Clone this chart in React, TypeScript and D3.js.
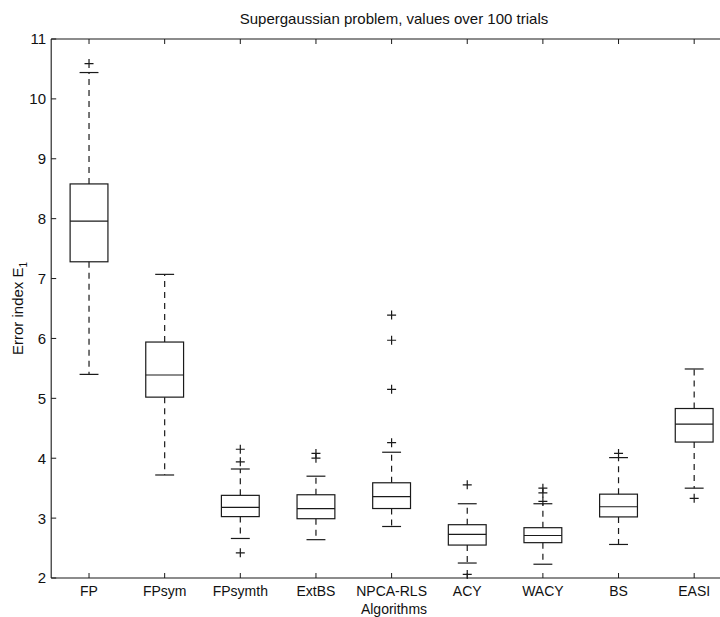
import React from "react";
import * as d3 from "d3";

const categories = ["FP", "FPsym", "FPsymth", "ExtBS", "NPCA-RLS", "ACY", "WACY", "BS", "EASI"];
const q1 = [7.28, 5.02, 3.025, 2.99, 3.16, 2.55, 2.59, 3.02, 4.27];
const medians = [7.96, 5.39, 3.18, 3.16, 3.36, 2.73, 2.71, 3.19, 4.57];
const q3 = [8.58, 5.94, 3.38, 3.39, 3.59, 2.89, 2.84, 3.4, 4.83];
const whiskerLow = [5.4, 3.72, 2.66, 2.64, 2.86, 2.25, 2.23, 2.56, 3.5];
const whiskerHigh = [10.44, 7.07, 3.82, 3.7, 4.1, 3.24, 3.24, 4.01, 5.49];
const outliers: number[][] = [
  [10.59],
  [],
  [4.15, 3.94, 2.42],
  [4.08, 4.0],
  [6.39, 5.97, 5.15, 4.26],
  [3.555, 2.06],
  [3.5, 3.42, 3.28],
  [4.08],
  [3.33],
];
const yTicks = [2, 3, 4, 5, 6, 7, 8, 9, 10, 11];

const W = 720;
const H = 617;
const left = 51.2;
const right = 732;
const top = 39;
const bottom = 578;

export default function App() {
  const x = d3.scaleLinear().domain([0.5, 9.5]).range([left, right]);
  const y = d3.scaleLinear().domain([2, 11]).range([bottom, top]);
  const step = x(2) - x(1);
  const boxW = step * 0.5;
  const capW = step * 0.25;
  const stroke = "#1a1a1a";
  const font = "Liberation Sans, Arial, sans-serif";
  const dash = "6,5";
  return (
    <svg width={W} height={H} style={{ position: "absolute", left: 0, top: 0, background: "#fff" }}
      fontFamily={font}>
      <rect x={0} y={0} width={W} height={H} fill="#fff" />
      <text x={394} y={24} fontSize={15} textAnchor="middle" fill="#111">
        Supergaussian problem, values over 100 trials
      </text>
      <line x1={left} x2={W} y1={top} y2={top} stroke={stroke} strokeWidth={1.1} />
      <line x1={left} x2={W} y1={bottom} y2={bottom} stroke={stroke} strokeWidth={1.1} />
      <line x1={left} x2={left} y1={top} y2={bottom} stroke={stroke} strokeWidth={1.1} />
      {yTicks.map((t) => (
        <g key={t}>
          <line x1={left} x2={left + 5} y1={y(t)} y2={y(t)} stroke={stroke} />
          <text x={46} y={y(t)} dy="0.36em" fontSize={15} textAnchor="end" fill="#111">
            {t}
          </text>
        </g>
      ))}
      {categories.map((c, i) => (
        <g key={c}>
          <line x1={x(i + 1)} x2={x(i + 1)} y1={bottom} y2={bottom - 5} stroke={stroke} />
          <line x1={x(i + 1)} x2={x(i + 1)} y1={top} y2={top + 5} stroke={stroke} />
          <text x={x(i + 1)} y={596} fontSize={14} textAnchor="middle" fill="#111">
            {c}
          </text>
        </g>
      ))}
      <text x={394} y={614} fontSize={14} textAnchor="middle" fill="#111">
        Algorithms
      </text>
      <text transform={`translate(23,${(top + bottom) / 2}) rotate(-90)`} fontSize={15}
        textAnchor="middle" fill="#111">
        Error index E<tspan fontSize={10} dy={4}>1</tspan>
      </text>
      {categories.map((c, i) => {
        const cx = x(i + 1);
        return (
          <g key={"b" + c} fill="none" stroke={stroke} strokeWidth={1.2}>
            <line x1={cx} x2={cx} y1={y(q3[i])} y2={y(whiskerHigh[i])} strokeDasharray={dash} />
            <line x1={cx} x2={cx} y1={y(q1[i])} y2={y(whiskerLow[i])} strokeDasharray={dash} />
            <line x1={cx - capW / 2} x2={cx + capW / 2} y1={y(whiskerHigh[i])} y2={y(whiskerHigh[i])} />
            <line x1={cx - capW / 2} x2={cx + capW / 2} y1={y(whiskerLow[i])} y2={y(whiskerLow[i])} />
            <rect x={cx - boxW / 2} y={y(q3[i])} width={boxW} height={y(q1[i]) - y(q3[i])} />
            <line x1={cx - boxW / 2} x2={cx + boxW / 2} y1={y(medians[i])} y2={y(medians[i])} />
            {outliers[i].map((o, j) => (
              <path key={j} d={`M${cx - 4.5},${y(o)}H${cx + 4.5}M${cx},${y(o) - 4.5}V${y(o) + 4.5}`} />
            ))}
          </g>
        );
      })}
    </svg>
  );
}
